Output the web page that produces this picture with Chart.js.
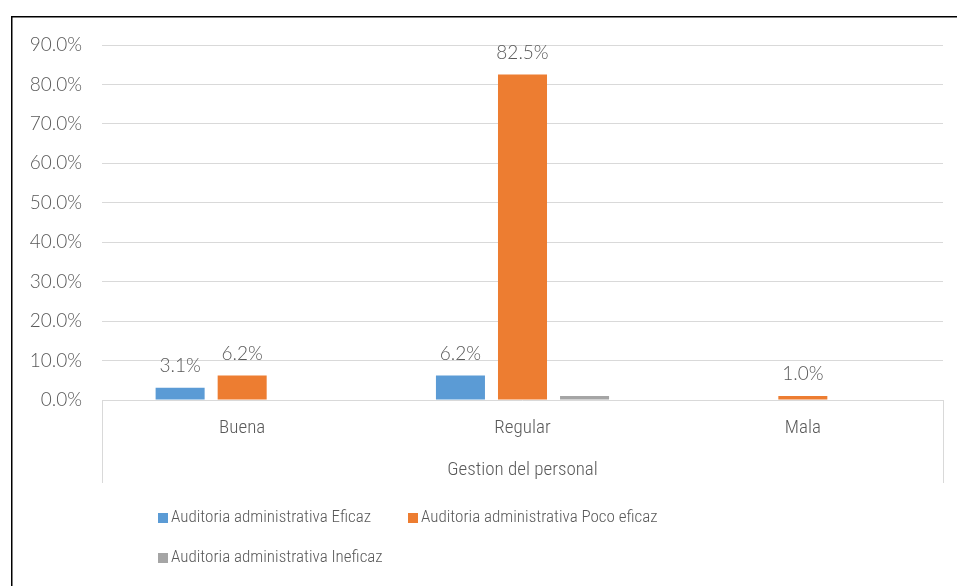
<!DOCTYPE html>
<html lang="es">
<head>
<meta charset="UTF-8">
<title>Gestion del personal</title>
<script src="https://cdn.jsdelivr.net/npm/chart.js"></script>
<style>
  body { margin: 0; padding: 0; background: #fff; }
  canvas { display: block; }
</style>
</head>
<body>
<canvas id="chart" width="957" height="586"></canvas>
<script>
  const categories = ['Buena', 'Regular', 'Mala'];
  const eficaz = [3.1, 6.2, 0];
  const pocoEficaz = [6.2, 82.5, 1.0];
  const ineficaz = [0, 1.0, 0];
  const seriesNames = [
    'Auditoria administrativa Eficaz',
    'Auditoria administrativa Poco eficaz',
    'Auditoria administrativa Ineficaz'
  ];
  const axisTitle = 'Gestion del personal';

  const NUM_FONT = 'Lato, "Open Sans", sans-serif';
  const TXT_FONT = '"Roboto Condensed", Roboto, sans-serif';
  const TEXT = '#595959';
  const GRID = '#d9d9d9';

  // frame around the chart, cut by the window edges
  const framePlugin = {
    id: 'frame',
    beforeDraw(chart) {
      const ctx = chart.ctx;
      ctx.save();
      ctx.strokeStyle = '#000';
      ctx.lineWidth = 1.5;
      ctx.beginPath();
      ctx.moveTo(11.75, 600);
      ctx.lineTo(11.75, 16.75);
      ctx.lineTo(960, 16.75);
      ctx.stroke();
      ctx.restore();
    }
  };

  // outer lines of the category axis, axis title and legend
  const axisPlugin = {
    id: 'axisExtras',
    afterDraw(chart) {
      const ctx = chart.ctx, a = chart.chartArea;
      ctx.save();
      ctx.strokeStyle = GRID;
      ctx.lineWidth = 1;
      ctx.beginPath();
      [a.left, a.right].forEach(x => {
        ctx.moveTo(Math.round(x) + 0.5, a.bottom);
        ctx.lineTo(Math.round(x) + 0.5, a.bottom + 83);
      });
      ctx.stroke();

      ctx.fillStyle = TEXT;
      ctx.font = '300 19px ' + TXT_FONT;
      ctx.textAlign = 'center';
      ctx.textBaseline = 'middle';
      ctx.fillText(axisTitle, (a.left + a.right) / 2, a.bottom + 70);

      // legend
      ctx.font = '300 17px ' + TXT_FONT;
      ctx.textAlign = 'left';
      const spots = [[158, 518], [408, 518], [158, 558]];
      chart.data.datasets.forEach((ds, i) => {
        const [x, y] = spots[i];
        ctx.fillStyle = ds.backgroundColor;
        ctx.fillRect(x, y - 5, 10, 10);
        ctx.fillStyle = TEXT;
        ctx.fillText(ds.label, x + 13, y);
      });
      ctx.restore();
    }
  };

  // value labels above the bars
  const labelPlugin = {
    id: 'barLabels',
    afterDatasetsDraw(chart) {
      const ctx = chart.ctx;
      ctx.save();
      ctx.fillStyle = TEXT;
      ctx.font = '300 19px ' + NUM_FONT;
      ctx.textAlign = 'center';
      ctx.textBaseline = 'middle';
      chart.data.datasets.forEach((ds, i) => {
        if (!ds.showLabels) return;
        chart.getDatasetMeta(i).data.forEach((bar, j) => {
          const v = ds.data[j];
          if (!v) return;
          ctx.fillText(v.toFixed(1) + '%', bar.x, bar.y - 22);
        });
      });
      ctx.restore();
    }
  };

  new Chart(document.getElementById('chart'), {
    type: 'bar',
    data: {
      labels: categories,
      datasets: [
        { label: seriesNames[0], data: eficaz, backgroundColor: '#5b9bd5', showLabels: true },
        { label: seriesNames[1], data: pocoEficaz, backgroundColor: '#ed7d31', showLabels: true },
        { label: seriesNames[2], data: ineficaz, backgroundColor: '#a5a5a5', showLabels: false }
      ]
    },
    options: {
      responsive: false,
      animation: false,
      events: [],
      categoryPercentage: 0.664,
      barPercentage: 0.79,
      layout: { padding: { left: 0, right: 14, top: 45, bottom: 0 } },
      plugins: {
        legend: { display: false },
        tooltip: { enabled: false }
      },
      scales: {
        y: {
          min: 0,
          max: 90,
          ticks: {
            stepSize: 10,
            color: TEXT,
            font: { family: NUM_FONT, size: 19, weight: '300' },
            padding: 20,
            callback: v => v.toFixed(1) + '%'
          },
          grid: { color: GRID, drawTicks: false },
          border: { display: false },
          afterFit(scale) { scale.width = 102; }
        },
        x: {
          ticks: {
            color: TEXT,
            font: { family: TXT_FONT, size: 19, weight: '300' },
            padding: 17
          },
          grid: { display: false, drawTicks: false },
          border: { display: false },
          afterFit(scale) { scale.height = 186; }
        }
      }
    },
    plugins: [framePlugin, axisPlugin, labelPlugin]
  });
</script>
</body>
</html>
